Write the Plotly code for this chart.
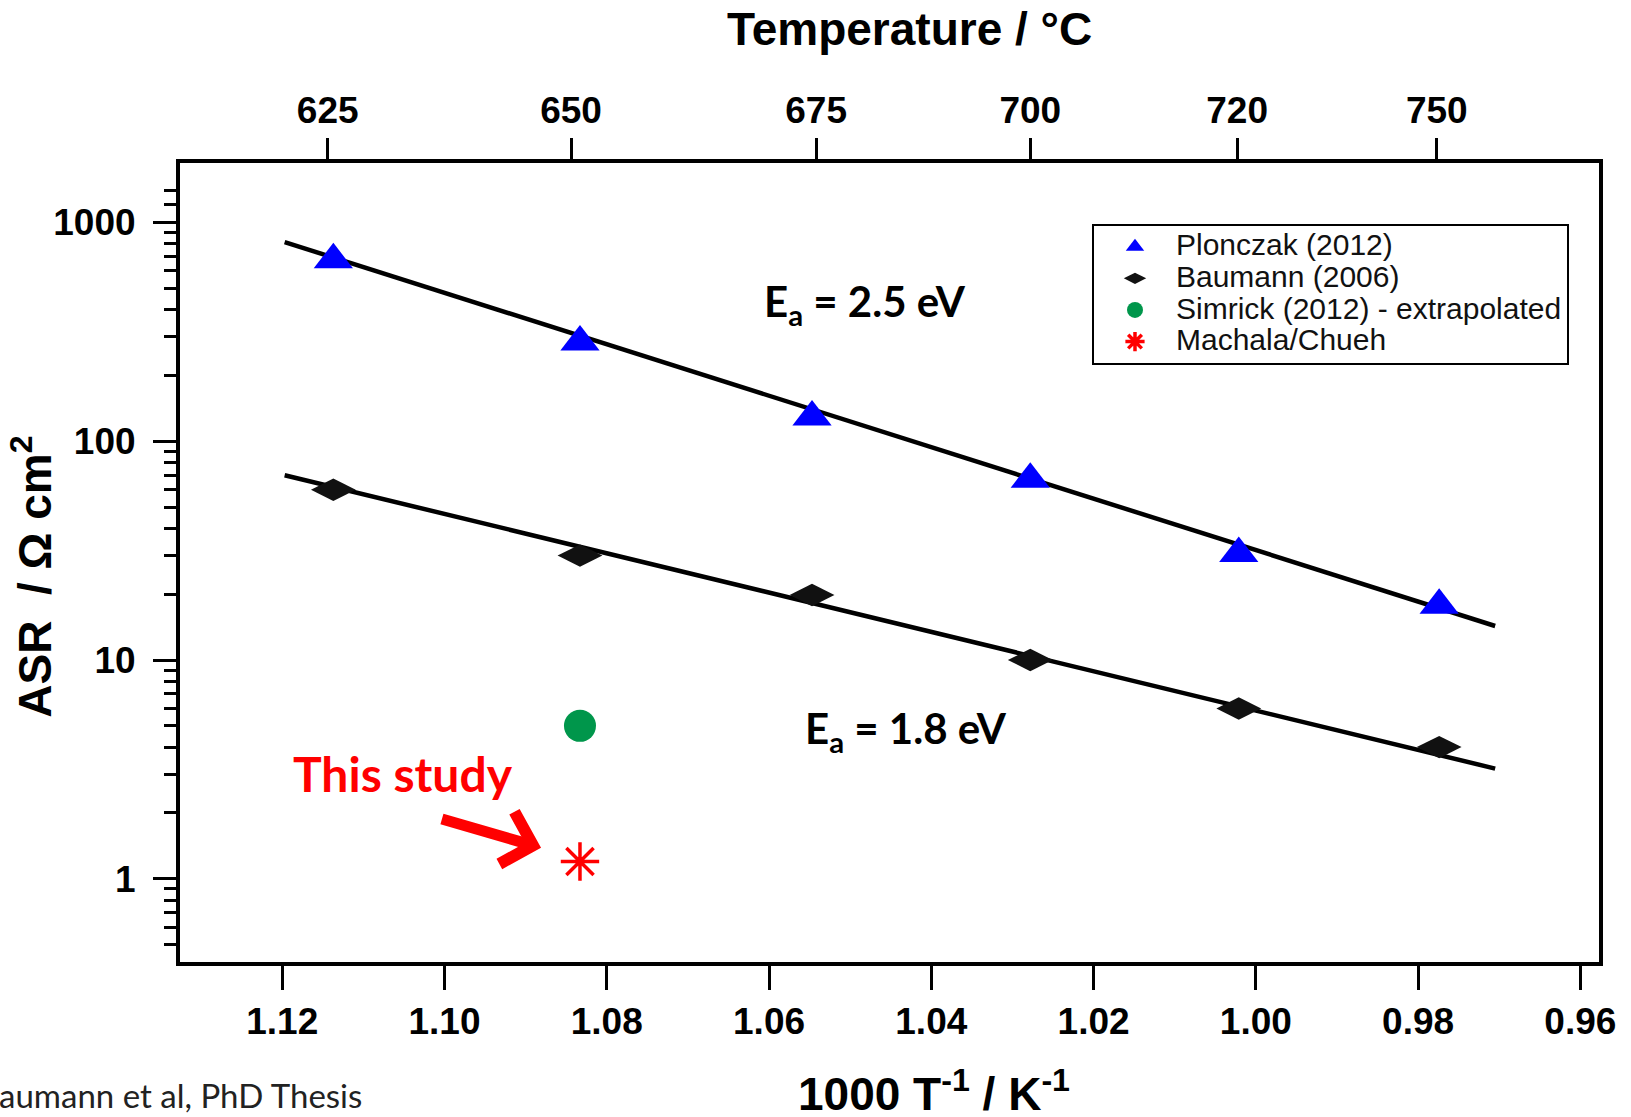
import numpy as np
import plotly.graph_objects as go

# ---------------- data ----------------
inv_T = [1.1137, 1.0833, 1.0547, 1.0278, 1.0021, 0.9774]          # 1000/T (K^-1)
asr_plonczak = [674, 284, 129, 67, 30.7, 17.8]                   # ohm cm2
asr_baumann = [60, 30, 19.8, 10.0, 6.0, 4.0]
simrick_x = [1.0833]
simrick_y = [5.0]
machala_x = [1.0833]
machala_y = [1.2]

fit_x = [1.1197, 0.9705]
fit_plonczak = [812, 14.3]
fit_baumann = [69.9, 3.19]

x_ticks = [1.12, 1.10, 1.08, 1.06, 1.04, 1.02, 1.00, 0.98, 0.96]
x_ticklabels = ["1.12", "1.10", "1.08", "1.06", "1.04", "1.02", "1.00", "0.98", "0.96"]
top_tick_pos = [1.1144, 1.0844, 1.0542, 1.0278, 1.0023, 0.9777]
top_tick_labels = ["625", "650", "675", "700", "720", "750"]
y_ticks = [1, 10, 100, 1000]
y_ticklabels = ["1", "10", "100", "1000"]
y_minor_ticks = [0.5, 0.6, 0.7, 0.8, 0.9,
                 2, 3, 4, 5, 6, 7, 8, 9,
                 20, 30, 40, 50, 60, 70, 80, 90,
                 200, 300, 400, 500, 600, 700, 800, 900, 1200, 1400]

series_names = ["Plonczak (2012)", "Baumann (2006)", "Simrick (2012) - extrapolated", "Machala/Chueh"]

x_range = [1.1326, 0.9577]
y_range_log = [-0.38, 3.271]

# ---------------- figure ----------------
W, H = 1631, 1117
ML, MR, MT, MB = 180, 32, 163, 155
AX = "Liberation Sans, Arial, sans-serif"
CAL = "Lato, Open Sans, sans-serif"


def legend_name(s):
    return '<span style="font-size:30px">' + s + '</span>'


fig = go.Figure()

fig.add_trace(go.Scatter(x=fit_x, y=fit_plonczak, mode="lines",
                         line=dict(color="black", width=4.5), showlegend=False, hoverinfo="skip"))
fig.add_trace(go.Scatter(x=fit_x, y=fit_baumann, mode="lines",
                         line=dict(color="black", width=4.5), showlegend=False, hoverinfo="skip"))

fig.add_trace(go.Scatter(x=inv_T, y=asr_plonczak, mode="markers", name=legend_name(series_names[0]),
                         marker=dict(symbol="triangle-up", size=34, color="#0000FF")))
fig.add_trace(go.Scatter(x=inv_T, y=asr_baumann, mode="markers", name=legend_name(series_names[1]),
                         marker=dict(symbol="diamond-wide", size=32, color="#111111")))
fig.add_trace(go.Scatter(x=simrick_x, y=simrick_y, mode="markers", name=legend_name(series_names[2]),
                         marker=dict(symbol="circle", size=32, color="#00964B")))
fig.add_trace(go.Scatter(x=machala_x, y=machala_y, mode="markers", name=legend_name(series_names[3]),
                         marker=dict(symbol="asterisk-open", size=32,
                                     line=dict(color="#FF0000", width=3.5), color="#FF0000")))

# top axis dummy trace
fig.add_trace(go.Scatter(x=[None], y=[None], xaxis="x2", showlegend=False, hoverinfo="skip"))

fig.update_layout(
    width=W, height=H,
    margin=dict(l=ML, r=MR, t=MT, b=MB),
    paper_bgcolor="white", plot_bgcolor="white",
    xaxis=dict(range=x_range, autorange=False, tickvals=x_ticks, ticktext=x_ticklabels,
               showgrid=False, zeroline=False, showline=True, mirror=True,
               linecolor="black", linewidth=4, ticks="outside", ticklen=24, tickwidth=3,
               tickcolor="black", ticklabelstandoff=0,
               tickfont=dict(family=AX, size=37, color="black", weight="bold")),
    xaxis2=dict(range=x_range, autorange=False, overlaying="x", side="top", anchor="y",
                tickvals=top_tick_pos, ticktext=top_tick_labels,
                showgrid=False, zeroline=False, showline=False,
                ticks="outside", ticklen=24, tickwidth=3, tickcolor="black", ticklabelstandoff=0,
                tickfont=dict(family=AX, size=37, color="black", weight="bold")),
    yaxis=dict(type="log", range=y_range_log, autorange=False, tickvals=y_ticks, ticktext=y_ticklabels,
               showgrid=False, zeroline=False, showline=True, mirror=True,
               linecolor="black", linewidth=4, ticks="outside", ticklen=23, tickwidth=3,
               tickcolor="black", ticklabelstandoff=10,
               minor=dict(tickvals=y_minor_ticks, ticks="outside", ticklen=12, tickwidth=3,
                          tickcolor="black", showgrid=False),
               tickfont=dict(family=AX, size=37, color="black", weight="bold")),
    legend=dict(x=0.6427, y=0.9237, xanchor="left", yanchor="top",
                bgcolor="white", bordercolor="black", borderwidth=2,
                font=dict(family=AX, size=22, color="#111111"),
                itemwidth=72, tracegroupgap=0, itemsizing="trace"),
    showlegend=True,
)

ann = []
# axis titles
ann.append(dict(text="Temperature / °C", xref="paper", yref="paper", x=0.5144, y=1.1677,
                xanchor="center", yanchor="middle", showarrow=False,
                font=dict(family=AX, size=46, color="black", weight="bold")))
ann.append(dict(text="1000 T<sup>-1</sup> / K<sup>-1</sup>", xref="paper", yref="paper", x=0.5314, y=-0.162,
                xanchor="center", yanchor="middle", showarrow=False,
                font=dict(family=AX, size=46, color="black", weight="bold")))
ann.append(dict(text="ASR  / Ω cm<sup>2</sup>", xref="paper", yref="paper", x=-0.1045, y=0.4819,
                xanchor="center", yanchor="middle", showarrow=False, textangle=-90,
                font=dict(family=AX, size=46, color="black", weight="bold")))
# activation energies
ann.append(dict(text="E<sub>a</sub> = 2.5 eV", xref="x", yref="y", x=1.0482, y=2.629,
                xanchor="center", yanchor="middle", showarrow=False,
                font=dict(family=CAL, size=42, color="black", weight="bold")))
ann.append(dict(text="E<sub>a</sub> = 1.8 eV", xref="x", yref="y", x=1.0431, y=0.6747,
                xanchor="center", yanchor="middle", showarrow=False,
                font=dict(family=CAL, size=42, color="black", weight="bold")))
# this study
ann.append(dict(text="This study", xref="x", yref="y", x=1.1051, y=np.log10(3.02),
                xanchor="center", yanchor="middle", showarrow=False,
                font=dict(family=CAL, size=48, color="#FF0000", weight="bold")))
ann.append(dict(text="", xref="x", yref="y", x=1.0881, y=np.log10(1.387),
                axref="x", ayref="y", ax=1.1005, ay=np.log10(1.885),
                showarrow=True, arrowhead=4, arrowsize=0.95, arrowwidth=11, arrowcolor="#FF0000"))
# source
ann.append(dict(text="Baumann et al, PhD Thesis", xref="paper", yref="paper", x=0.1297, y=-0.1665,
                xanchor="right", yanchor="middle", showarrow=False,
                font=dict(family=CAL, size=33, color="#222222")))

fig.update_layout(annotations=ann)

fig.write_html("out.html")
